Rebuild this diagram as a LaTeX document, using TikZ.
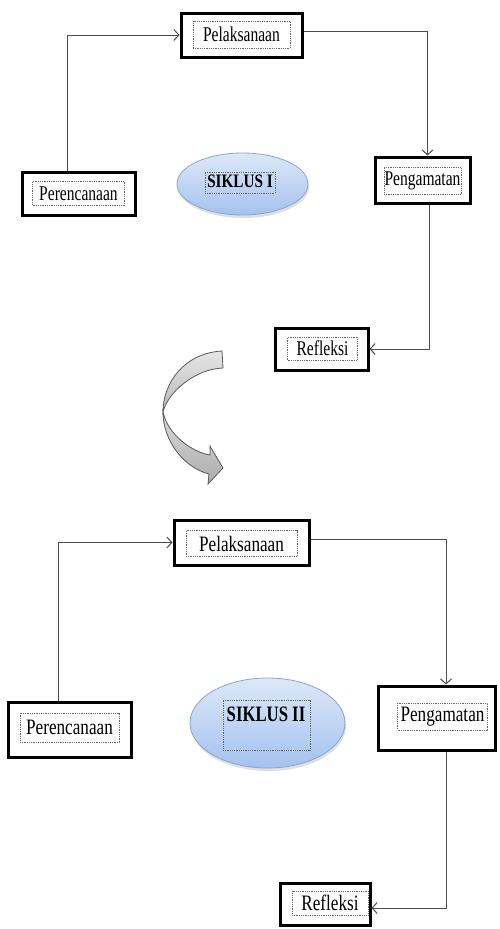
\documentclass[tikz,border=0pt]{standalone}
\usepackage{fontspec}
\setmainfont{Liberation Serif}
\usepackage{graphicx}
\usetikzlibrary{arrows.meta,calc,shapes.geometric,shadows}
\newcommand{\cta}[1]{\scalebox{0.74}[1]{#1}}
\newcommand{\ctb}[1]{\scalebox{0.78}[1]{#1}}
\definecolor{elltop}{HTML}{DDE8F8}
\definecolor{ellbot}{HTML}{A4C2EE}
\definecolor{elldraw}{HTML}{86A5D6}
\begin{document}
\begin{tikzpicture}[x=1pt,y=-1pt,
  outer/.style={draw=black,line width=3pt,fill=white,inner sep=0pt},
  inner/.style={draw=gray!80!black,densely dotted,line width=0.8pt,inner sep=0pt},
  ta/.style={font=\fontsize{21}{24}\selectfont},
  tb/.style={font=\fontsize{22}{25}\selectfont},
  conn/.style={draw=black!70,line width=1pt},
  arr/.style={conn,-{Straight Barb[length=5pt,width=11pt,line width=1pt]}},
  ell/.style={ellipse,draw=elldraw,line width=0.8pt,top color=elltop,bottom color=ellbot,inner sep=0pt,
    drop shadow={opacity=0.25,shadow xshift=1pt,shadow yshift=-3pt}}
]
\useasboundingbox (0,0) rectangle (499,929);
% ---------- cycle 1
\node[outer,minimum width=121pt,minimum height=44pt] (P1o) at (241.5,35) {};
\node[inner,ta,minimum width=97pt,minimum height=27pt] (P1) at (241.5,34.5) {\cta{Pelaksanaan}};
\node[outer,minimum width=113pt,minimum height=43pt] (R1o) at (78.5,193.5) {};
\node[inner,ta,minimum width=92pt,minimum height=24pt] (R1) at (78.5,193.5) {\cta{Perencanaan}};
\node[ell,minimum width=131pt,minimum height=62pt] (S1) at (242.5,184) {};
\node[inner,minimum width=70pt,minimum height=21pt] (S1b) at (240,182.5) {};
\node[font=\fontsize{19}{22}\selectfont\bfseries] (S1t) at (240,181) {\scalebox{0.8}[1]{SIKLUS I}};
\node[outer,minimum width=95pt,minimum height=46pt] (G1o) at (422.5,180) {};
\node[inner,ta,minimum width=77pt,minimum height=27pt] (G1) at (422.5,181) {\cta{Pengamatan}};
\node[outer,minimum width=93pt,minimum height=42pt] (F1o) at (321.5,349) {};
\node[inner,ta,minimum width=70pt,minimum height=23pt] (F1) at (322.5,348.5) {\cta{Refleksi}};
\draw[arr] ($(R1o.north)+(-11,0)$) |- (P1o.west);
\draw[arr] ($(P1o.east)+(0,-4)$) -| ($(G1o.north)+(5,0)$);
\draw[arr] ($(G1o.south)+(7,0)$) |- (F1o.east);
% ---------- curved arrow
\coordinate (cL) at (163,412);
\shade[top color=gray!20,bottom color=gray!55,draw=black!65,line width=0.8pt]
  (222,351) .. controls (185,353) and (163,382) .. (cL)
  .. controls (168,392) and (195,369) .. (223,368) -- cycle;
\shade[top color=gray!30,bottom color=gray!65,draw=black!65,line width=0.8pt]
  (cL) .. controls (168,435) and (192,452) .. (210,455)
  -- (210,446) -- (223,468) -- (208,484) -- (209,474)
  .. controls (185,468) and (163,442) .. (cL) -- cycle;
% ---------- cycle 2
\node[outer,minimum width=135pt,minimum height=45pt] (P2o) at (241.5,542.5) {};
\node[inner,tb,minimum width=111pt,minimum height=26pt] (P2) at (241.5,543.5) {\ctb{Pelaksanaan}};
\node[outer,minimum width=123pt,minimum height=55pt] (R2o) at (69.5,729.5) {};
\node[inner,tb,minimum width=99pt,minimum height=29pt] (R2) at (69.5,727.5) {\ctb{Perencanaan}};
\node[ell,minimum width=155pt,minimum height=90pt] (S2) at (267.5,723) {};
\node[inner,minimum width=87pt,minimum height=50pt] (S2b) at (266.5,725) {};
\node[font=\fontsize{22}{24}\selectfont\bfseries] (S2t) at (266,714) {\scalebox{0.76}[1]{SIKLUS II}};
\node[outer,minimum width=117pt,minimum height=64pt] (G2o) at (436.5,718) {};
\node[inner,tb,minimum width=90pt,minimum height=27pt] (G2) at (442.5,716.5) {\ctb{Pengamatan}};
\node[outer,minimum width=90pt,minimum height=42pt] (F2o) at (325,904) {};
\node[inner,tb,minimum width=76pt,minimum height=24pt] (F2) at (330,903) {\ctb{Refleksi}};
\draw[arr] ($(R2o.north)+(-11.5,0)$) |- (P2o.west);
\draw[arr] ($(P2o.east)+(0,-3)$) -| ($(G2o.north)+(9.5,0)$);
\draw[arr] ($(G2o.south)+(9.5,0)$) |- ($(F2o.east)+(0,4)$);
\end{tikzpicture}
\end{document}
